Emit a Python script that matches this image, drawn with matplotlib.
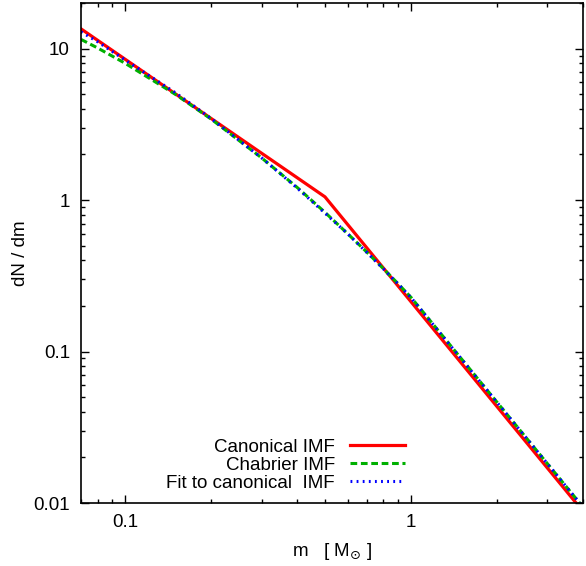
import matplotlib
matplotlib.use('Agg')
import matplotlib.pyplot as plt
from matplotlib.ticker import FixedLocator, NullFormatter

plt.rcParams['font.family'] = ['Liberation Sans', 'DejaVu Sans']
plt.rcParams['mathtext.fontset'] = 'dejavusans'

# values (log-log)
m_canon = [0.07, 0.5, 4.0]
dn_canon = [13.5, 1.05, 0.0088]

m_chab = [0.07, 0.08, 0.1, 0.15, 0.2, 0.3, 0.4, 0.5, 0.6, 0.7, 0.8, 0.9, 1.0, 2.0, 4.0]
dn_chab = [11.5, 10.1, 7.99, 4.98, 3.42, 1.90, 1.21, 0.83, 0.60, 0.454, 0.353, 0.281, 0.228, 0.0463, 0.0094]

m_fit = [0.07, 0.08, 0.1, 0.15, 0.2, 0.3, 0.4, 0.5, 0.6, 0.7, 0.8, 0.9, 1.0, 2.0, 4.0]
dn_fit = [12.9, 11.1, 8.4, 5.1, 3.45, 1.90, 1.20, 0.82, 0.60, 0.452, 0.352, 0.280, 0.227, 0.0462, 0.0094]

x_ticks = [0.1, 1]
x_labels = ['0.1', '1']
y_ticks = [0.01, 0.1, 1, 10]
y_labels = ['0.01', '0.1', '1', '10']

fs = 13.5

fig = plt.figure(figsize=(5.86, 5.66), dpi=100)
ax = fig.add_axes([81/586, 1 - 503/566, 502/586, 500/566])

ax.plot(m_canon, dn_canon, color='#ff0000', lw=2.3, label='Canonical IMF')
ax.plot(m_chab, dn_chab, color='#00b000', lw=2.2, ls=(0, (2.2, 1.2)), label='Chabrier IMF')
ax.plot(m_fit, dn_fit, color='#0000ff', lw=2.2, ls=(0, (0.6, 1.4)), label='Fit to canonical  IMF')

ax.set_xscale('log')
ax.set_yscale('log')
ax.set_xlim(0.07, 4.0)
ax.set_ylim(0.01, 20)

ax.xaxis.set_major_locator(FixedLocator(x_ticks))
ax.set_xticklabels(x_labels)
ax.yaxis.set_major_locator(FixedLocator(y_ticks))
ax.set_yticklabels(y_labels)
ax.xaxis.set_minor_formatter(NullFormatter())
ax.yaxis.set_minor_formatter(NullFormatter())

ax.tick_params(which='both', direction='in', top=True, right=True, labelsize=fs, width=1)
ax.tick_params(which='major', length=6, pad=8)
ax.tick_params(which='minor', length=3.2)
for s in ax.spines.values():
    s.set_linewidth(1.2)

ax.set_xlabel(r'm   [ M$_{\odot}$ ]', fontsize=fs, labelpad=7)
ax.set_ylabel('dN / dm', fontsize=fs, labelpad=3)

ax.legend(loc='lower right', bbox_to_anchor=(0.646, 0.022), frameon=False,
          markerfirst=False, fontsize=fs, handlelength=2.95, handletextpad=0.8,
          labelspacing=0.05, borderpad=0, borderaxespad=0)

fig.savefig('out.png', dpi=100)
